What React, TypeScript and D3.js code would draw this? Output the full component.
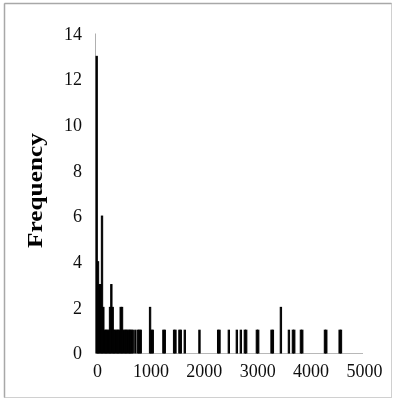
import React from "react";
import * as d3 from "d3";

// histogram bins (start value, bin width 25)
const binWidth = 25;
const binStarts = [
  0, 25, 50, 75, 100, 125, 150, 175, 200, 225, 250, 275, 300, 325, 350, 375, 400,
  425, 450, 475, 500, 525, 550, 575, 600, 625, 650, 675, 725, 775, 800, 825,
  1000, 1025, 1050, 1250, 1275, 1450, 1475, 1550, 1575, 1650, 1925, 2275, 2300,
  2475, 2625, 2700, 2775, 2800, 3000, 3025, 3275, 3300, 3450, 3600, 3675, 3700,
  3825, 3850, 4275, 4300, 4550, 4575,
];
const counts = [
  13, 4, 3, 3, 6, 2, 1, 1, 1, 1, 2, 3, 2, 1, 1, 1, 1,
  1, 2, 2, 1, 1, 1, 1, 1, 1, 1, 1, 1, 1, 1, 1,
  2, 1, 1, 1, 1, 1, 1, 1, 1, 1, 1, 1, 1,
  1, 1, 1, 1, 1, 1, 1, 1, 1, 2, 1, 1, 1,
  1, 1, 1, 1, 1, 1,
];
const yTicks = [0, 2, 4, 6, 8, 10, 12, 14];
const xTicks = [0, 1000, 2000, 3000, 4000, 5000];

const W = 393;
const H = 400;

export default function App() {
  const x = d3.scaleLinear().domain([0, 5000]).range([96, 363]);
  const y = d3.scaleLinear().domain([0, 14]).range([353, 33.5]);
  const font = "'Liberation Serif', 'Times New Roman', serif";

  return (
    <svg width={W} height={H} style={{ position: "absolute", left: 0, top: 0 }}>
      <defs>
        <filter id="soft" x="-5%" y="-5%" width="110%" height="110%">
          <feGaussianBlur stdDeviation="0.55" />
        </filter>
      </defs>
      <rect width={W} height={H} fill="#fff" />
      <g filter="url(#soft)">
        {/* frame */}
        <rect x={4.5} y={3.5} width={387} height={394} fill="none" stroke="#d0d0d0" />
        <line x1={4.5} x2={391.5} y1={3.5} y2={3.5} stroke="#a8a8a8" strokeWidth={1.5} />
        <line x1={4.5} x2={4.5} y1={3.5} y2={397.5} stroke="#a8a8a8" strokeWidth={1.5} />

        {/* axes */}
        <line x1={95.5} x2={95.5} y1={y(14)} y2={y(0)} stroke="#b0b0b0" />
        <line x1={95.5} x2={x(5000)} y1={353.5} y2={353.5} stroke="#b8b8b8" />

        {/* bars */}
        {binStarts.map((b, i) => (
          <rect
            key={b}
            x={x(b)}
            y={y(counts[i])}
            width={x(b + binWidth) - x(b)}
            height={y(0) - y(counts[i])}
            fill="#000"
            stroke="#000"
            strokeWidth={1}
          />
        ))}

        {/* y tick labels */}
        {yTicks.map((t) => (
          <text
            key={t}
            x={82}
            y={y(t)}
            dy="0.35em"
            textAnchor="end"
            fontFamily={font}
            fontSize={18}
            fill="#111"
          >
            {t}
          </text>
        ))}

        {/* x tick labels */}
        {xTicks.map((t) => (
          <text
            key={t}
            x={x(t) + 1.5}
            y={371}
            dy="0.35em"
            textAnchor="middle"
            fontFamily={font}
            fontSize={18}
            fill="#111"
          >
            {t}
          </text>
        ))}

        {/* y axis title */}
        <text
          transform="translate(42,190.5) rotate(-90)"
          textAnchor="middle"
          fontFamily={font}
          fontWeight="bold"
          fontSize={22}
          textLength={115}
          lengthAdjust="spacingAndGlyphs"
          fill="#000"
        >
          Frequency
        </text>
      </g>
    </svg>
  );
}
